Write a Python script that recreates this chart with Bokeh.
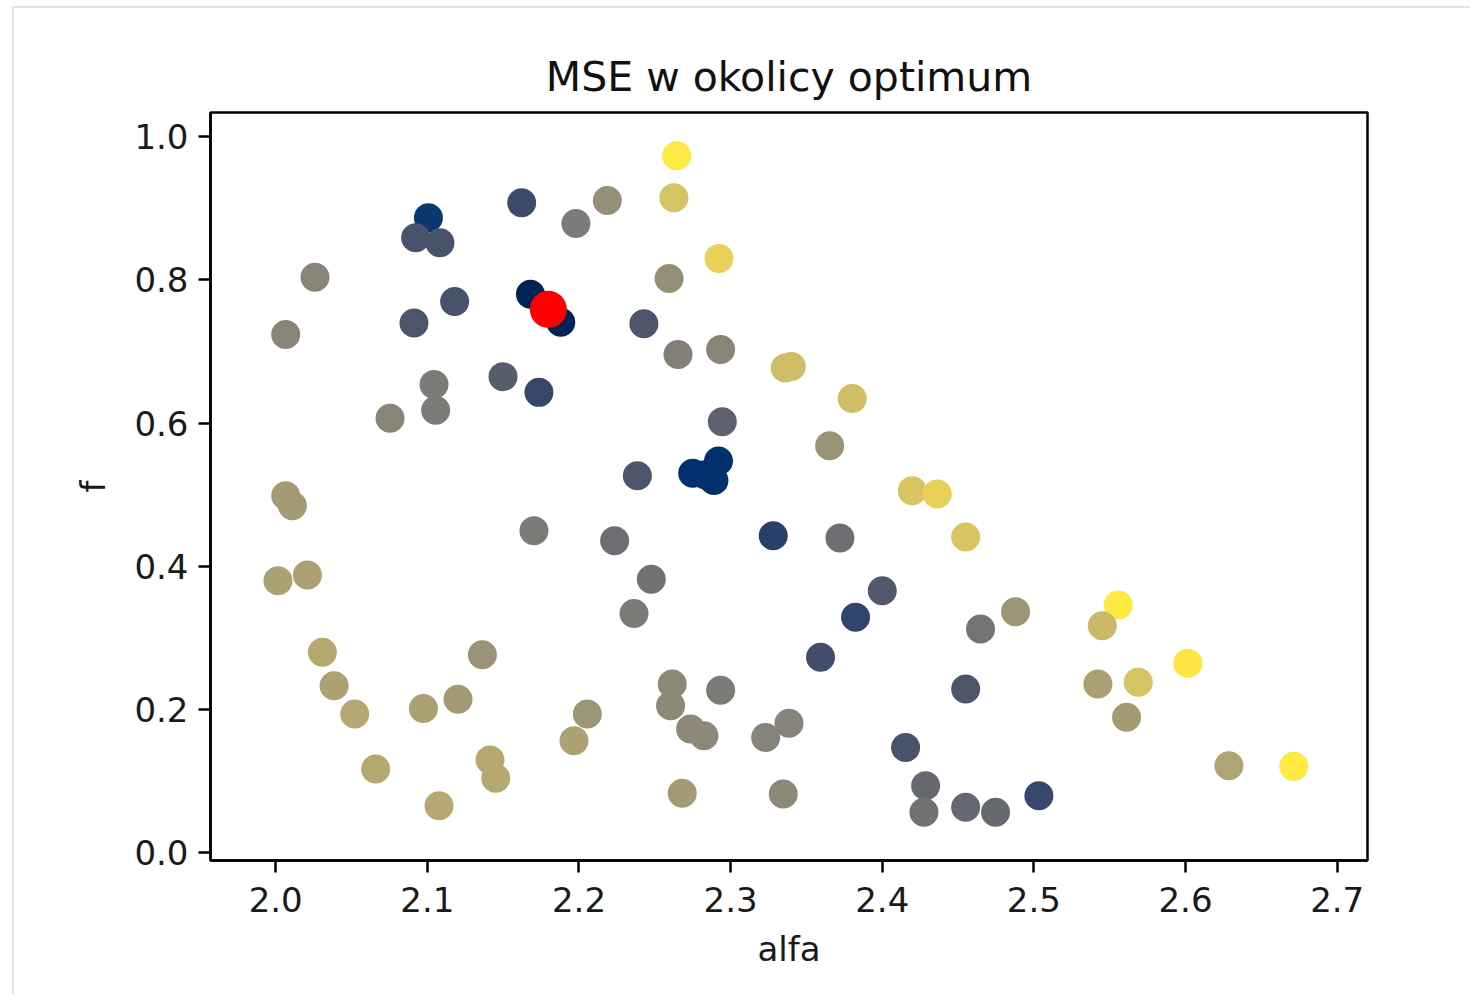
from bokeh.plotting import figure
from bokeh.models import ColumnDataSource, FixedTicker, Range1d
from bokeh.transform import linear_cmap
from bokeh.palettes import Cividis256
from bokeh.embed import file_html
from bokeh.resources import INLINE

# ---- data ----
alfa = [2.1007, 2.0923, 2.1083, 2.1622, 2.1980, 2.2187, 2.0259, 2.0066, 2.1180, 2.0912,
        2.1680, 2.1880, 2.1499, 2.1736, 2.1044, 2.1055, 2.0754, 2.2644, 2.2626, 2.2923,
        2.2594, 2.2428, 2.2653, 2.2934, 2.3360, 2.3400, 2.3802, 2.2945, 2.3653, 2.2385,
        2.2750, 2.2830, 2.2890, 2.2920, 2.4198, 2.4363, 2.4550, 2.2235, 2.3281, 2.3721,
        2.2477, 2.2363, 2.4000, 2.3824, 2.3593, 2.4648, 2.4550, 2.2615, 2.2604, 2.2934,
        2.2736, 2.2824, 2.3385, 2.3231, 2.4154, 2.4286, 2.4275, 2.4550, 2.4747, 2.2681,
        2.3347, 2.4879, 2.5556, 2.5451, 2.6015, 2.5422, 2.5688, 2.5611, 2.6286, 2.6714,
        2.5033, 2.0066, 2.0110, 2.0015, 2.0209, 2.0308, 2.0385, 2.0521, 2.0659, 2.0974,
        2.1202, 2.1363, 2.1077, 2.1413, 2.1451, 2.1703, 2.2055, 2.1967]
f_vals = [0.887, 0.859, 0.852, 0.908, 0.879, 0.911, 0.804, 0.724, 0.770, 0.740,
          0.780, 0.741, 0.665, 0.643, 0.654, 0.618, 0.607, 0.9735, 0.915, 0.830,
          0.802, 0.739, 0.696, 0.703, 0.677, 0.679, 0.6345, 0.602, 0.5684, 0.5265,
          0.530, 0.528, 0.520, 0.547, 0.5056, 0.501, 0.441, 0.4358, 0.4427, 0.4395,
          0.382, 0.334, 0.366, 0.3287, 0.273, 0.3124, 0.2286, 0.2356, 0.2053, 0.227,
          0.1727, 0.1634, 0.1806, 0.161, 0.147, 0.0936, 0.0563, 0.0633, 0.0563, 0.0828,
          0.0819, 0.3366, 0.346, 0.317, 0.2644, 0.2356, 0.2379, 0.189, 0.1215, 0.1205,
          0.0796, 0.4986, 0.4846, 0.3799, 0.3878, 0.2798, 0.2332, 0.1937, 0.1169, 0.2015,
          0.2144, 0.2765, 0.0656, 0.1294, 0.1038, 0.4497, 0.1937, 0.1564]
mse = [0.13, 0.28, 0.28, 0.24, 0.50, 0.60, 0.55, 0.55, 0.28, 0.30,
       0.02, 0.02, 0.34, 0.22, 0.50, 0.50, 0.55, 1.00, 0.84, 0.90,
       0.60, 0.30, 0.52, 0.55, 0.82, 0.82, 0.82, 0.36, 0.62, 0.30,
       0.10, 0.10, 0.10, 0.10, 0.85, 0.90, 0.85, 0.43, 0.18, 0.43,
       0.45, 0.50, 0.32, 0.20, 0.25, 0.46, 0.30, 0.57, 0.57, 0.50,
       0.57, 0.57, 0.54, 0.54, 0.28, 0.40, 0.45, 0.40, 0.40, 0.66,
       0.57, 0.63, 1.00, 0.80, 0.98, 0.68, 0.84, 0.66, 0.70, 1.00,
       0.22, 0.66, 0.66, 0.69, 0.69, 0.72, 0.69, 0.72, 0.72, 0.69,
       0.66, 0.62, 0.72, 0.72, 0.72, 0.50, 0.63, 0.69]
opt_alfa = [2.1798]
opt_f = [0.759]

x_ticks = [2.0, 2.1, 2.2, 2.3, 2.4, 2.5, 2.6, 2.7]
x_tick_labels = ["2.0", "2.1", "2.2", "2.3", "2.4", "2.5", "2.6", "2.7"]
y_ticks = [0.0, 0.2, 0.4, 0.6, 0.8, 1.0]
y_tick_labels = ["0.0", "0.2", "0.4", "0.6", "0.8", "1.0"]

FONT = "DejaVu Sans"

p = figure(
    output_backend="svg", toolbar_location=None,
    frame_width=1157, frame_height=748,
    min_border_left=196, min_border_right=103, min_border_top=104, min_border_bottom=134,
    x_range=Range1d(1.957, 2.720), y_range=Range1d(-0.011, 1.034),
    title="MSE w okolicy optimum",
)
p.styles = {"border-top": "2px solid #e4e4e4", "border-left": "2px solid #e4e4e4",
            "margin-top": "6px", "margin-left": "12px"}

p.title.align = "center"
p.title.text_font = FONT
p.title.text_font_size = "41px"
p.title.text_font_style = "normal"
p.title.text_color = "#111111"
p.title.standoff = 23

p.grid.visible = False
p.outline_line_color = "black"
p.outline_line_width = 2.5
p.outline_line_alpha = 1.0
p.background_fill_color = "white"
p.border_fill_color = "white"

src = ColumnDataSource(dict(alfa=alfa, f=f_vals, mse=mse))
p.scatter("alfa", "f", source=src, size=29,
          fill_color=linear_cmap("mse", Cividis256, 0.0, 1.0),
          line_color=None)
p.scatter(opt_alfa, opt_f, size=37, fill_color="red", line_color=None)

p.xaxis.ticker = FixedTicker(ticks=x_ticks)
p.xaxis.major_label_overrides = dict(zip(x_ticks, x_tick_labels))
p.yaxis.ticker = FixedTicker(ticks=y_ticks)
p.yaxis.major_label_overrides = dict(zip(y_ticks, y_tick_labels))
p.xaxis.axis_label = "alfa"
p.yaxis.axis_label = "f"

for ax in (p.xaxis[0], p.yaxis[0]):
    ax.axis_line_color = "black"
    ax.axis_line_width = 2.5
    ax.major_tick_line_color = "black"
    ax.major_tick_line_width = 2.5
    ax.major_tick_in = 0
    ax.major_tick_out = 12
    ax.minor_tick_line_color = None
    ax.major_label_text_font = FONT
    ax.major_label_text_font_size = "34px"
    ax.major_label_text_color = "#1a1a1a"
    ax.major_label_standoff = 10
    ax.axis_label_text_font = FONT
    ax.axis_label_text_font_size = "34px"
    ax.axis_label_text_font_style = "normal"
    ax.axis_label_text_color = "#1a1a1a"

p.xaxis.major_label_standoff = 14
p.xaxis.axis_label_standoff = 14
p.yaxis.axis_label_standoff = 18
p.yaxis.major_label_orientation = "horizontal"

open("out.html", "w").write(file_html(p, INLINE))
